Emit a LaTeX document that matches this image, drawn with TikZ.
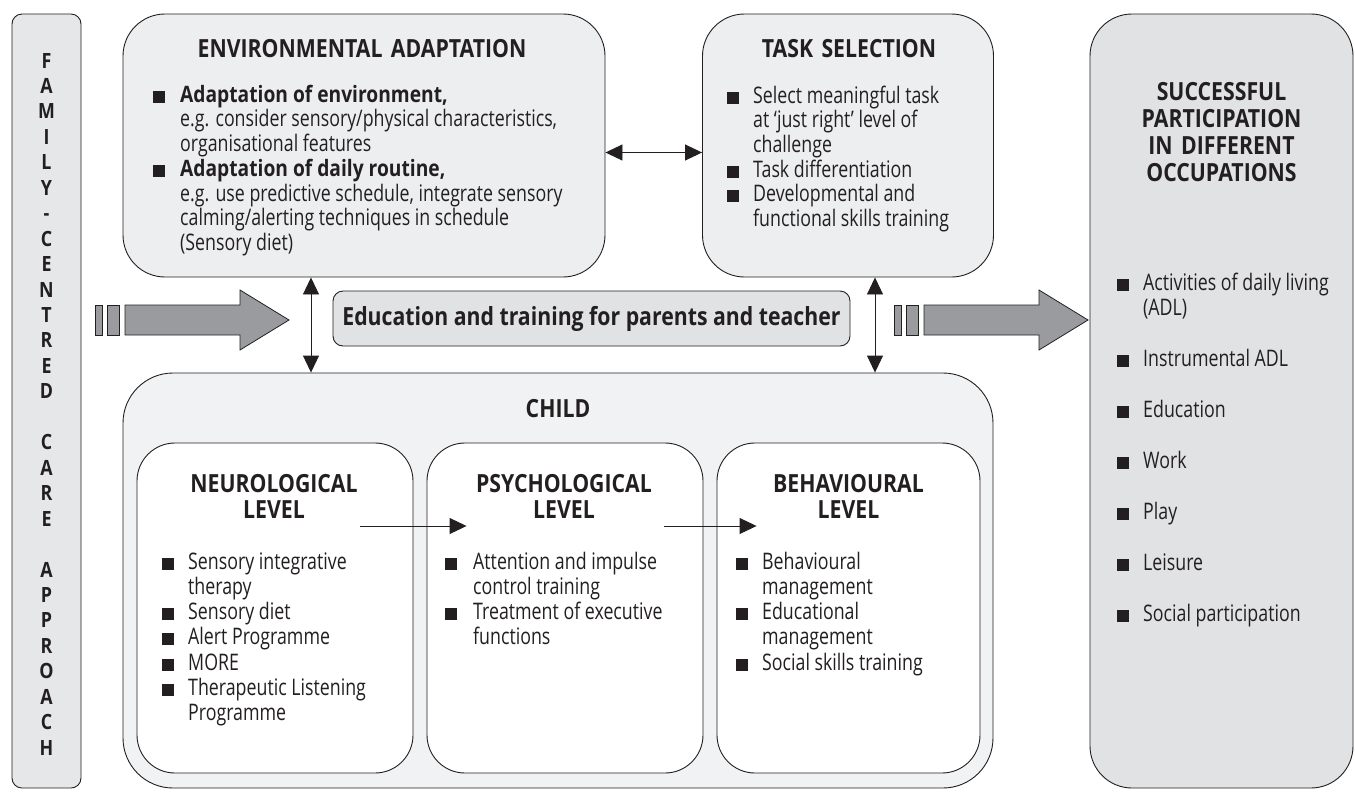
\documentclass[tikz,border=0pt]{standalone}
\usepackage{fontspec}
\setmainfont{Open Sans}[FakeStretch=0.78, BoldFeatures={FakeStretch=0.85}]
\usetikzlibrary{arrows.meta}
\definecolor{linec}{HTML}{231F20}
\definecolor{famgray}{HTML}{E6E7E8}
\definecolor{topgray}{HTML}{EDEEF0}
\definecolor{childgray}{HTML}{F1F2F3}
\definecolor{edugray}{HTML}{E1E2E4}
\definecolor{succgray}{HTML}{E1E2E4}
\definecolor{arrowgray}{HTML}{9A9B9F}
\newcommand\sq{\rule[-0.5pt]{12pt}{12pt}}

\begin{document}
\begin{tikzpicture}[x=1pt, y=-1pt, >={Triangle[length=17pt,width=16pt]},
	box/.style={draw=linec, line width=0.9pt, inner sep=0pt, rounded corners=#1},
	title/.style={font=\fontsize{25}{26}\selectfont\bfseries, text=linec, inner sep=0pt, anchor=base, align=center, text width=#1},
	items/.style={font=\fontsize{22.8}{#1}\selectfont, text=linec, inner sep=0pt, anchor=base west},
	link/.style={<->, draw=linec, line width=0.9pt},
	flow/.style={->, draw=linec, line width=0.9pt}]
	\useasboundingbox (0,0) rectangle (1355,796);
	% boxes
	\node[box=10pt, fill=famgray, minimum width=69pt, minimum height=774pt] (fam) at (46.5,401) {};
	\node[box=42pt, fill=topgray, minimum width=482pt, minimum height=263pt] (env) at (364,145.5) {};
	\node[box=42pt, fill=topgray, minimum width=291pt, minimum height=263pt] (task) at (848,145.5) {};
	\node[box=10pt, fill=edugray, minimum width=517pt, minimum height=55pt, font=\fontsize{25}{26}\selectfont\bfseries, text=linec] (edu) at (591.5,318.5) {Education and training for parents and teacher};
	\node[box=50pt, fill=childgray, minimum width=870pt, minimum height=415pt] (child) at (558,580.5) {};
	\node[box=38pt, fill=white, minimum width=276pt, minimum height=330pt] (neuro) at (275,608) {};
	\node[box=38pt, fill=white, minimum width=276pt, minimum height=330pt] (psych) at (565,608) {};
	\node[box=38pt, fill=white, minimum width=263pt, minimum height=330pt] (behav) at (848.5,608) {};
	\node[box=42pt, fill=succgray, minimum width=263pt, minimum height=774pt] (succ) at (1221.5,401) {};

	% family-centred care letters
	\foreach \l [count=\i] in {F,A,M,I,L,Y,-,C,E,N,T,R,E,D,{},C,A,R,E,{},A,P,P,R,O,A,C,H}
		\node[font=\fontsize{21}{25}\selectfont\bfseries, text=linec, inner sep=0pt, anchor=base] (fam\i) at (46.5,{68+(\i-1)*25.45}) {\l};

	% titles
	\node[title=470pt] (envt) at (362,57) {ENVIRONMENTAL ADAPTATION};
	\node[title=280pt] (taskt) at (849,57) {TASK SELECTION};
	\node[title=250pt, font=\fontsize{25}{27}\selectfont\bfseries] (succt) at (1221.5,100) {SUCCESSFUL\\PARTICIPATION\\IN DIFFERENT\\OCCUPATIONS};
	\node[title=200pt] (childt) at (558,417) {CHILD};
	\node[title=260pt] (neurot) at (274,492) {NEUROLOGICAL\\LEVEL};
	\node[title=260pt] (psycht) at (564,492) {PSYCHOLOGICAL\\LEVEL};
	\node[title=250pt] (behavt) at (848.5,492) {BEHAVIOURAL\\LEVEL};

	% lists
	\node[items=24.7pt] (envl) at (153,102) {\begin{tabular}[t]{@{}p{27pt}@{}l@{}}
		\sq & {\fontsize{22.6}{24.7}\selectfont\bfseries Adaptation of environment,}\\
		& e.g. consider sensory/physical characteristics,\\
		& organisational features\\
		\sq & {\fontsize{22.6}{24.7}\selectfont\bfseries Adaptation of daily routine,}\\
		& e.g. use predictive schedule, integrate sensory\\
		& calming/alerting techniques in schedule\\
		& (Sensory diet)
	\end{tabular}};
	\node[items=24.5pt] (taskl) at (727,103) {\begin{tabular}[t]{@{}p{26pt}@{}l@{}}
		\sq & Select meaningful task\\
		& at ‘just right’ level of\\
		& challenge\\
		\sq & Task differentiation\\
		\sq & Developmental and\\
		& functional skills training
	\end{tabular}};
	\node[items=25.3pt] (neurol) at (162,569) {\begin{tabular}[t]{@{}p{26pt}@{}l@{}}
		\sq & Sensory integrative\\
		& therapy\\
		\sq & Sensory diet\\
		\sq & Alert Programme\\
		\sq & MORE\\
		\sq & Therapeutic Listening\\
		& Programme
	\end{tabular}};
	\node[items=25.3pt] (psychl) at (445,569) {\begin{tabular}[t]{@{}p{28pt}@{}l@{}}
		\sq & Attention and impulse\\
		& control training\\
		\sq & Treatment of executive\\
		& functions
	\end{tabular}};
	\node[items=25.3pt] (behavl) at (736,569) {\begin{tabular}[t]{@{}p{26pt}@{}l@{}}
		\sq & Behavioural\\
		& management\\
		\sq & Educational\\
		& management\\
		\sq & Social skills training
	\end{tabular}};
	\node[items=25pt] (succl) at (1117,290) {\begin{tabular}[t]{@{}p{26pt}@{}l@{}}
		\sq & Activities of daily living\\
		& (ADL)\\[26pt]
		\sq & Instrumental ADL\\[26pt]
		\sq & Education\\[26pt]
		\sq & Work\\[26pt]
		\sq & Play\\[26pt]
		\sq & Leisure\\[26pt]
		\sq & Social participation
	\end{tabular}};

	% big arrows
	\foreach \ax in {95,894}
	{
		\begin{scope}[shift={(\ax,0)}]
			\filldraw[fill=arrowgray, draw=linec, line width=0.8pt] (0,305) rectangle (7,335) (12,305) rectangle (24,335);
			\filldraw[fill=arrowgray, draw=linec, line width=0.8pt] (30,305) -- (145,305) -- (145,290) -- (194,320) -- (145,350) -- (145,335) -- (30,335) -- cycle;
		\end{scope}
	}

	% connectors
	\draw[link] ([yshift=-7pt]env.east) -- ([yshift=-7pt]task.west);
	\draw[link] ([xshift=-53pt]env.south) -- ([xshift=-53pt]env.south |- child.north);
	\draw[link] ([xshift=27pt]task.south) -- ([xshift=27pt]task.south |- child.north);
	\draw[flow] ([xshift=-53pt,yshift=82pt]neuro.east) -- ([xshift=40pt,yshift=82pt]psych.west);
	\draw[flow] ([xshift=-39pt,yshift=82pt]psych.east) -- ([xshift=40pt,yshift=82pt]behav.west);
\end{tikzpicture}
\end{document}
